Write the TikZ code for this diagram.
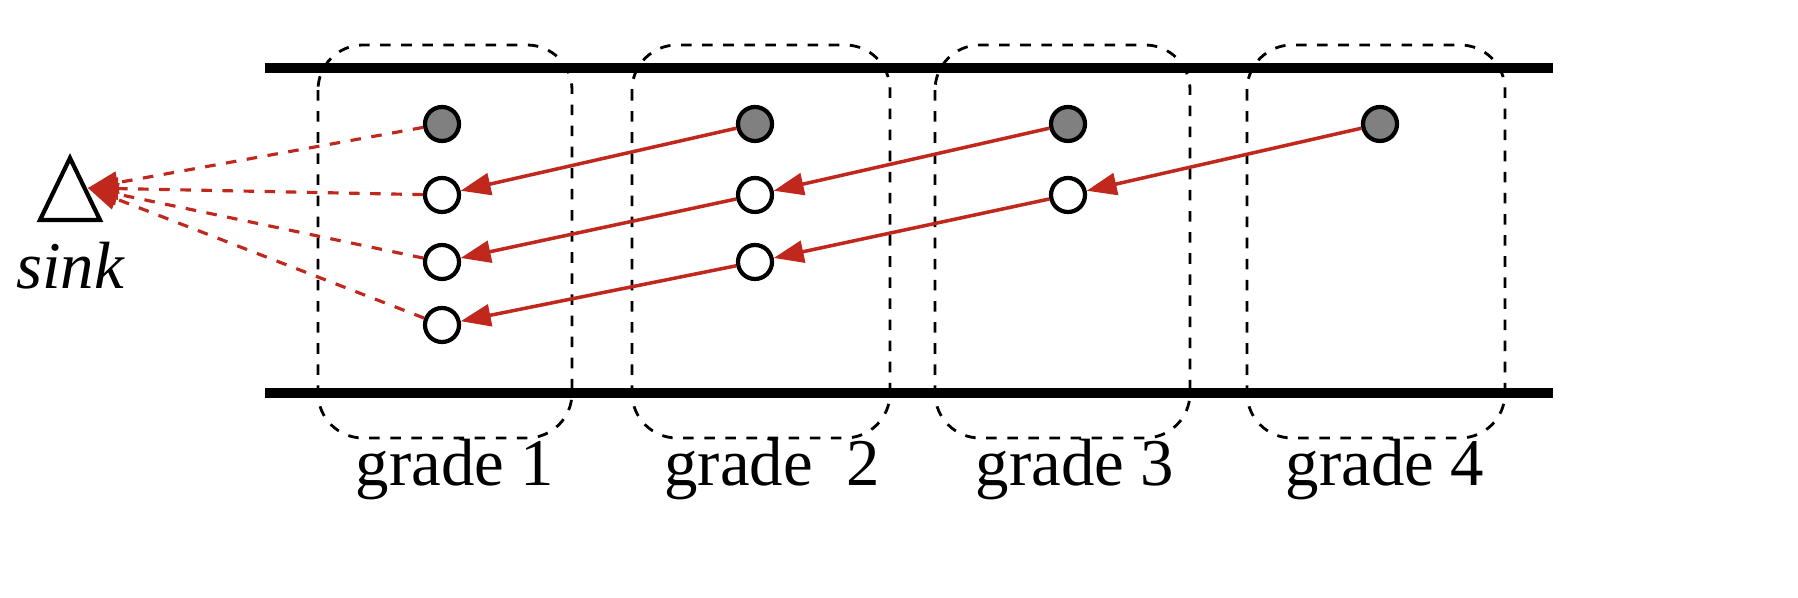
\documentclass[tikz,border=0pt]{standalone}
\usepackage{fontspec}
\setmainfont{Liberation Serif}
\usetikzlibrary{arrows.meta}
\definecolor{arr}{RGB}{192,40,30}
\begin{document}
\begin{tikzpicture}[x=0.01cm,y=-0.01cm,
  gbox/.style={draw,dashed,rounded corners=0.45cm,line width=0.8pt},
  road/.style={line width=3pt},
  full/.style={circle,draw,line width=1.2pt,fill=black!50,minimum size=0.34cm,inner sep=0},
  empty/.style={circle,draw,line width=1.2pt,fill=white,minimum size=0.34cm,inner sep=0},
  link/.style={draw=arr,line width=1pt,-{Triangle[length=0.3cm,width=0.22cm]}},
  tosink/.style={draw=arr,line width=0.9pt,dashed,-{Triangle[length=0.3cm,width=0.22cm]}},
  lab/.style={font=\fontsize{19}{21}\selectfont}]
\useasboundingbox (0,0) rectangle (1798,598);
\draw[road] (265,68) -- (1553,68);
\draw[road] (265,393) -- (1553,393);
\draw[gbox] (318,45) rectangle (572,438);
\draw[gbox] (632,45) rectangle (890,438);
\draw[gbox] (935,45) rectangle (1190,438);
\draw[gbox] (1247,45) rectangle (1505,438);
\node[lab] (l1) at (455,470) {grade 1};
\node[lab] (l2) at (772,470) {grade\ \ 2};
\node[lab] (l3) at (1075,470) {grade 3};
\node[lab] (l4) at (1385,470) {grade 4};
\draw[line width=1.2pt,fill=white] (70,158) -- (100,220) -- (40,220) -- cycle;
\coordinate (s) at (88,188);
\node[lab,font=\fontsize{19}{21}\selectfont\itshape] (sl) at (70,266) {sink};
\node[full] (g1) at (442,124) {};
\node[full] (g2) at (755,124) {};
\node[full] (g3) at (1068,124) {};
\node[full] (g4) at (1380,124) {};
\node[empty] (a1) at (442,195) {};
\node[empty] (a2) at (442,262) {};
\node[empty] (a3) at (442,325) {};
\node[empty] (b1) at (755,195) {};
\node[empty] (b2) at (755,262) {};
\node[empty] (c1) at (1068,195) {};
\draw[link] (g2) -- (a1);
\draw[link] (g3) -- (b1);
\draw[link] (g4) -- (c1);
\draw[link] (b1) -- (a2);
\draw[link] (c1) -- (b2);
\draw[link] (b2) -- (a3);
\foreach \n in {g1,a1,a2,a3} \draw[tosink] (\n) -- (s);
\end{tikzpicture}
\end{document}
